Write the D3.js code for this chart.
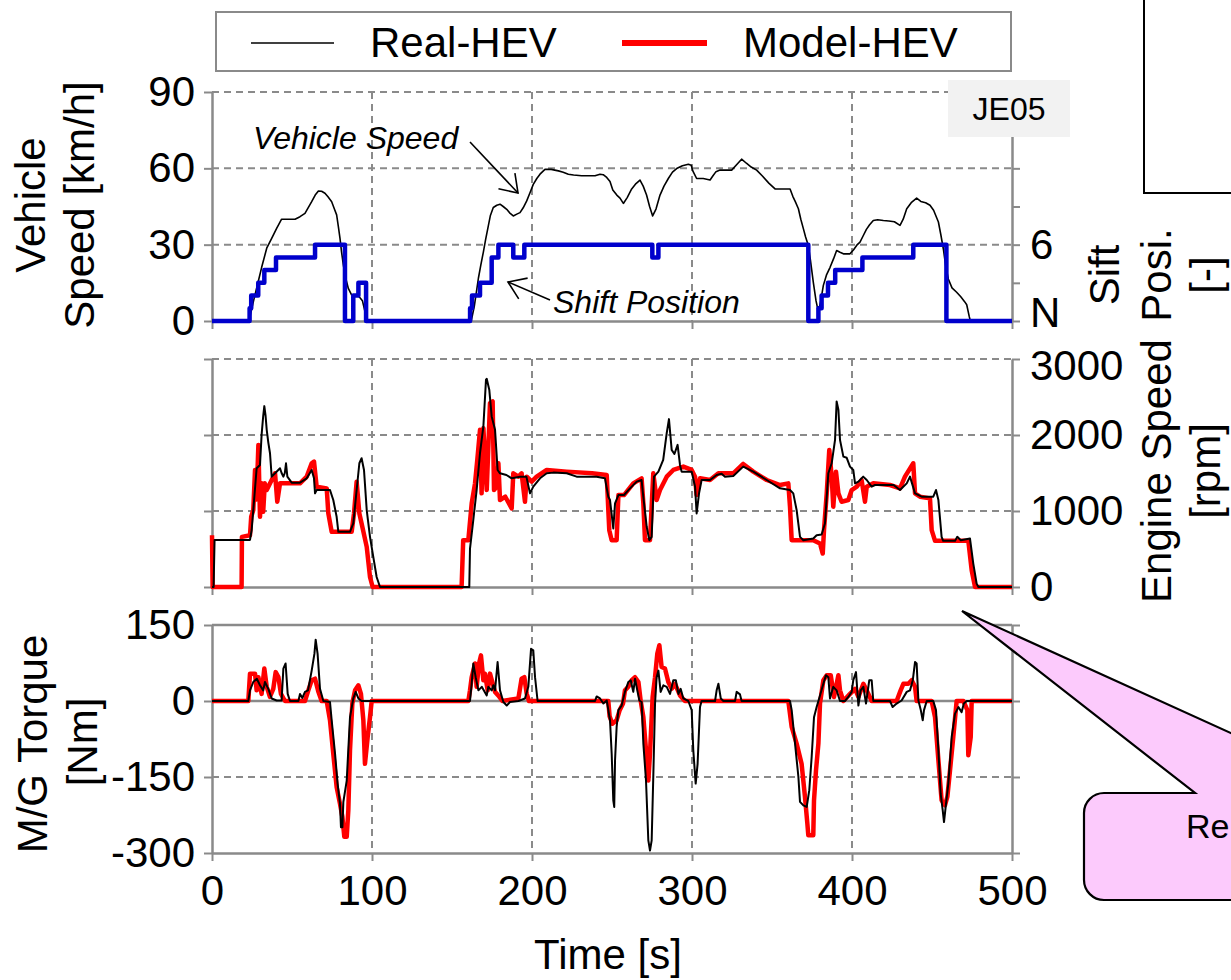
<!DOCTYPE html>
<html>
<head>
<meta charset="utf-8">
<script src="https://cdn.jsdelivr.net/npm/d3@7"></script>
<style>
  body { margin: 0; background: #fff; }
  svg { display: block; }
  text { font-family: "Liberation Sans", Arial, sans-serif; fill: #000; }
</style>
</head>
<body>
<svg id="chart" width="1231" height="980"></svg>
<script>
// ---- axis ticks ----
const timeTicks = [0, 100, 200, 300, 400, 500];
const speedTicks = [0, 30, 60, 90];
const shiftTicks = [0, 3, 6, 9, 12, 15, 18];
const shiftLabels = { 0: "N", 6: "6" };
const engineTicks = [0, 1000, 2000, 3000];
const torqueTicks = [-300, -150, 0, 150];

// ---- vehicle speed, Real-HEV [time s, km/h] ----
const vehicleSpeed = [[0,0],[23.5,0],[24,2.4],[26,8],[28.9,15.5],[31,21],[34.2,28.6],[37.3,32.5],[40.4,36.4],[43.5,40],[51.9,40],[55,41],[58.1,42.3],[62.3,46.9],[64.5,49.5],[66.5,51.1],[68.5,51],[70.6,50.2],[72.5,48.8],[74.8,46.9],[76.5,44],[77.9,41.7],[79,37],[80,32.5],[81,27],[82.1,22],[83.5,17],[85.2,12.8],[87.3,10.2],[90,10],[92,9.5],[94,8],[95.5,4],[97,0],[162,0],[164,6],[166.5,16.8],[168,22],[169.6,27.1],[171,32],[172.7,37.4],[174,41.5],[175.8,44.6],[178,45.5],[180,45.9],[182,45],[184.2,43.9],[186,42.5],[188.3,41.3],[190.5,42],[192.5,42.6],[194.5,44.5],[196.7,47.2],[198.8,50.5],[200.8,53.7],[203,56],[205,57.7],[208.1,59.6],[212,59.6],[216.5,59],[219.5,58.5],[222.7,57.7],[226,57.4],[231,57.1],[239.4,57.1],[242.5,57.7],[244.5,57.5],[246.7,56.4],[248.75,54.8],[250.5,51.5],[253,49.5],[255,48.3],[257.1,46.2],[259.5,48.5],[262.3,51.9],[265,54],[267.5,55.4],[269.5,53],[271.6,49.5],[273.5,45],[275.4,41.3],[277.5,44],[280,49.5],[282.5,53],[285.2,56],[287.8,58.5],[290.4,59.9],[294,61],[297.7,61.6],[299.5,61.2],[300.5,59],[302.9,56],[307,56],[311.3,55.4],[313,57],[315,58.7],[317.5,59.3],[324.8,59.3],[328,61.5],[331,63.6],[334,62],[337,60.5],[340.4,59.3],[344,57],[348,54.2],[351.9,51.9],[361.3,51.9],[363,49],[364.5,47],[366.5,44.1],[368,40],[369.6,36.3],[371,33],[372.7,29.7],[374,24],[375.8,15.3],[377.5,8],[379,3.5],[380.5,8],[382.1,14],[384,18],[386.3,21.1],[388.5,24.5],[390.4,27.7],[392.5,27],[394.6,26.4],[398.75,26.4],[401,28],[403,29.8],[405,31],[407,33.5],[409,36],[411,37.8],[413.3,39.5],[416,39.8],[419.6,39.5],[423,39.3],[426.5,39],[430,37.6],[432,40],[434.2,44.1],[437,46.5],[440.4,48.3],[443,47],[446,46.5],[448.75,45.5],[451,43.5],[454,38.9],[455.5,34],[457.1,28.3],[458.5,22],[460.2,16.5],[462.5,13],[465.4,11.3],[468,9.5],[470.5,7.5],[471.7,6.4],[473.3,1.7],[474,0],[500,0]];

// ---- shift position (N = 0) [time s, position] ----
const shiftPosition = [[0,0],[23.5,1],[24.5,2],[28.9,3],[32.7,4],[40,5],[64.4,6],[83.1,0],[88.3,2],[91.5,3],[96.3,0],[161.3,1],[162.5,2],[167.5,3],[174.8,5],[179,6],[188.3,5],[195.2,6],[275.2,5],[279,6],[372.7,0],[379,1],[381,2],[385,3],[389.5,4],[406.5,5],[438.3,6],[459,0],[500,0]];

// ---- engine speed [time s, rpm] ----
const engineReal = [[0,0],[1,0],[1.6,620],[23.75,620],[24.8,750],[25.8,1012],[27.9,1562],[30,1606],[31,2002],[32,2250],[32.7,2380],[33.5,2250],[34.2,2068],[35.2,1900],[36.25,1760],[37.3,1452],[39.4,1496],[40.5,1520],[42.5,1562],[43.5,1500],[44.6,1452],[45.5,1500],[46.25,1628],[47.1,1452],[49.8,1373],[55,1373],[59.2,1430],[62.3,1540],[63.75,1430],[64.4,1232],[65.4,1276],[73.75,1276],[75.8,1144],[77.9,924],[78.96,726],[86.25,726],[88.3,836],[90.4,1276],[92.1,1628],[93.5,1694],[95,1540],[96.7,1012],[98.75,660],[100.8,396],[102.9,132],[105,0],[160.8,0],[161.25,506],[163.3,880],[165.4,1276],[167.5,1760],[169.6,2112],[171.25,2728],[171.7,2740],[173.3,2596],[174.8,2244],[176.9,2068],[178.5,1540],[180,1496],[184,1474],[187.3,1430],[192.5,1452],[196.5,1452],[198.75,1232],[200.8,1320],[205,1430],[209.2,1496],[213.3,1505],[221.7,1496],[227.9,1452],[240.4,1452],[245.6,1430],[247.7,1188],[248.75,1144],[250.8,770],[251.9,1100],[254,1210],[257.5,1210],[261.25,1298],[265.4,1386],[268.5,1408],[269.5,1200],[271.7,792],[273.3,616],[274.8,660],[276.25,1452],[279,1518],[282,1672],[284.2,2024],[285.6,2209],[287.3,1804],[289,1750],[291,1870],[292.5,1606],[293.5,1518],[299.8,1518],[301.9,1320],[302.9,968],[304.4,1232],[306,1408],[311.25,1408],[315.4,1474],[318.5,1490],[320.6,1452],[325.8,1460],[332,1584],[338.3,1518],[346.7,1408],[355,1298],[361.25,1276],[363.3,1232],[365.4,1012],[367.5,660],[369.6,616],[375.8,638],[377.9,682],[381,690],[383.1,836],[385.2,1496],[387.3,1628],[389.4,1936],[390.4,2442],[391.5,2332],[392.5,1936],[394.6,1716],[396.7,1700],[398.75,1584],[400.8,1540],[401.9,1364],[404,1386],[407,1452],[409.2,1408],[412.3,1320],[414.4,1342],[426,1342],[430,1276],[434.2,1364],[436.25,1452],[439.4,1232],[443.5,1188],[450.8,1188],[452.5,1276],[454,1144],[456,660],[457,607],[464.4,607],[465.8,660],[468,616],[473.75,638],[475.8,308],[477.9,44],[479,0],[500,0]];

const engineModel = [[0,680],[0.4,0],[18.5,0],[18.7,660],[23.75,680],[24.5,924],[25.8,1012],[26.9,1540],[27.8,1150],[29,1870],[30,924],[31,1364],[32,990],[33,1364],[34.2,1276],[35.2,1320],[37.3,1408],[39.4,1496],[40.8,1122],[42.5,1364],[55,1364],[59.2,1452],[62.3,1628],[63.75,1650],[65.4,1320],[71.7,1298],[72.7,968],[74.8,726],[87.3,726],[88.75,968],[90.4,1386],[92.1,968],[93.5,836],[96.7,528],[98.75,132],[100.4,0],[156,0],[157,616],[160.2,616],[162.3,1100],[164.4,1364],[165.8,1672],[167.5,2068],[168.5,1232],[169.6,2090],[171.7,1276],[173.75,2420],[175.4,2442],[176.25,1276],[178,1320],[179,1628],[180,1144],[183.3,1188],[187.3,1034],[188.3,1496],[191.5,1452],[193.5,1496],[195.6,1122],[196.7,1452],[199.8,1386],[202.9,1452],[209.2,1540],[221.7,1518],[237.5,1496],[246.7,1474],[247.7,1012],[248.3,748],[249.8,616],[252.9,616],[254,1210],[257.5,1210],[263.3,1364],[268.5,1430],[269.6,1100],[270.6,616],[273.75,616],[275.8,1496],[277.9,1144],[280,1276],[284.2,1452],[288.3,1540],[294.6,1584],[299.8,1540],[301.9,1452],[302.9,1210],[305,1430],[311.25,1408],[316.5,1496],[325.8,1496],[332,1619],[338.3,1518],[346.7,1408],[355,1342],[360.2,1364],[361.25,1056],[362.3,616],[375.8,616],[380,572],[381.7,440],[382.5,748],[384.2,1232],[385.8,1804],[387.3,1452],[388.3,1056],[390,1518],[391.5,1232],[393.5,1122],[397.7,1144],[399.8,1276],[403,1320],[406,1408],[408.1,1122],[409.2,1320],[413.3,1364],[423.75,1342],[430,1298],[433.1,1452],[438.3,1628],[439.4,1232],[442.5,1188],[448.75,1166],[449.8,748],[451.9,607],[472.7,607],[474.8,220],[476.9,0],[500,0]];

// ---- M/G torque [time s, Nm] ----
const torqueReal = [[0,0],[22.7,0],[23.75,21],[25.8,37.5],[28,44],[30,31],[32,21],[33.1,37.5],[35.2,24],[37.3,5],[40.4,1],[43.5,1],[44.6,64],[46,74],[47.3,14],[48.75,0],[54,0],[55,14],[56.5,6],[58.1,18],[60,21],[62.3,60],[64,93],[64.8,121],[66,93],[67.5,24],[69.6,0],[73.75,-2],[74.8,-38],[76.9,-104],[78.5,-163],[80,-203],[80.6,-249],[81.5,-249],[82.1,-199],[84.2,-157],[86.25,-32],[88.3,5],[89.8,18],[91.5,5],[93.5,0],[161.25,0],[162.3,34],[163.3,74],[164.8,47],[166.5,21],[168.6,28],[171.7,11],[172.7,28],[174.8,21],[175.8,31],[176.9,21],[178.5,77],[180,21],[182.1,-2],[184.2,-9],[186.2,-2],[191.5,0],[195.6,5],[197.7,28],[199.4,103],[200.8,100],[201.9,47],[203.5,0],[239.4,0],[240.4,9],[242.5,5],[244.6,-5],[246.7,1],[248.75,-38],[249.8,-104],[250.8,-196],[251.4,-209],[251.9,-117],[252.9,-51],[254,-18],[256,-9],[258.1,18],[260.2,37.5],[261.7,41],[263.3,18],[264.4,44],[265.8,21],[267.1,1],[268.5,-2],[269.6,-84],[271.25,-157],[272.7,-275],[273.75,-295],[274.8,-275],[275.8,-150],[276.9,-5],[277.9,47],[279,60],[280.4,18],[282.1,31],[284.2,28],[286.25,14],[288.3,41],[289.9,41],[291.5,14],[292.9,24],[294.6,5],[297.7,0],[299.8,-18],[300.8,-97],[302.3,-163],[303.5,-124],[305,-12],[306,0],[314.4,0],[315.4,21],[316.5,34],[318,5],[319.6,0],[326.9,0],[327.9,18],[330,13],[331,0],[361.25,0],[362.3,-18],[364.4,-84],[366.5,-150],[367.5,-199],[369.6,-206],[371.7,-209],[373.3,-176],[374.8,-110],[376.25,-32],[377.9,-12],[380,11],[382.1,34],[383.75,51],[385.2,47],[386.25,5],[388.3,28],[390.4,21],[392.5,0],[395.6,0],[397.7,8],[399.8,18],[400.8,41],[402.5,57],[404,-9],[405.4,21],[407.1,28],[408.75,-5],[410.8,41],[412.3,41],[413.3,0],[423.75,0],[425.4,-12],[427.9,-5],[431,1],[434.2,18],[436.25,21],[438,41],[439.4,77],[440.4,74],[441.5,1],[443,-18],[444.2,-38],[445,-18],[446.7,0],[450.8,0],[452.5,-18],[454,-97],[455.4,-183],[456.7,-216],[457.5,-239],[458.75,-203],[460.2,-163],[462.3,-71],[464.4,-25],[466.5,-12],[468.5,-22],[469.9,-5],[471.7,0],[500,0]];

const torqueModel = [[0,0],[22.7,0],[23.75,54],[26.9,54],[27.9,21],[29,47],[31,14],[32.7,64],[34.2,28],[36.2,8],[38.3,24],[39.8,57],[41.5,47],[43.1,14],[45.6,0],[58.1,0],[60.2,21],[62.3,41],[64.4,44],[66.5,18],[68.5,0],[71.7,0],[73.75,-38],[75.8,-104],[77.9,-170],[80,-203],[81.5,-229],[82.7,-268],[84.2,-268],[85.2,-216],[86.25,-97],[87.7,-5],[89.4,21],[91.5,31],[93.1,14],[94.6,-38],[95.6,-124],[97.3,-71],[98.75,-32],[99.8,0],[160.2,0],[161.25,21],[162.3,47],[164.4,74],[165.4,28],[166.9,74],[168.1,90],[169.6,41],[170.6,54],[172.3,21],[173.75,54],[175.2,37.5],[176.9,18],[178.9,11],[181.5,0],[191.5,5],[193.5,44],[195.2,47],[196.7,14],[198.1,0],[247.7,0],[248.5,-30],[250.2,-45],[252.9,-38],[254.8,-18],[256.9,-5],[258.1,21],[260.2,28],[262.3,41],[264.4,47],[266.5,37.5],[267.9,1],[269.6,-32],[271.25,-97],[272.7,-157],[273.75,-104],[275.4,8],[276.9,47],[278.3,93],[279.6,110],[281,67],[283.1,64],[285.2,37.5],[287.3,24],[289.4,34],[292.5,11],[295.6,0],[360.2,0],[362.3,-51],[365.4,-84],[368.5,-124],[370.6,-189],[372.1,-242],[372.7,-265],[375.8,-265],[376.25,-196],[377.5,-137],[379,-84],[380,-5],[382.1,41],[384.2,51],[386.7,51],[388.75,8],[391.5,51],[392.5,21],[394.6,0],[398.75,14],[401.9,24],[404,8],[407.1,34],[409.2,21],[412.3,0],[427.9,0],[430.4,21],[432.1,34],[435.2,34],[437.3,41],[439.4,28],[440.4,0],[449.8,0],[451.9,-32],[454,-117],[456,-196],[458.1,-206],[459.6,-189],[461.25,-137],[463.3,-71],[465.4,0],[469.6,0],[472.1,-18],[472.7,-107],[474.2,-71],[474.8,0],[500,0]];

// ---- drawing ----
const svg = d3.select("#chart");
svg.append("rect").attr("width", 1231).attr("height", 980).attr("fill", "#fff");

const AXIS = "#8a8a8a";
const FS = 42;
const plain = d => String(d);   // hyphen-minus for negatives

const x = d3.scaleLinear().domain([0, 500]).range([212, 1012]);
const ySpeed = d3.scaleLinear().domain([0, 90]).range([321, 92]);
const yShift = d3.scaleLinear().domain([0, 18]).range([321, 92]);
const yEngine = d3.scaleLinear().domain([0, 3000]).range([587, 359]);
const yTorque = d3.scaleLinear().domain([-300, 150]).range([853, 625]);

function dashedH(g, y, v) {
  g.append("line").attr("x1", x(0)).attr("x2", x(500)).attr("y1", y(v)).attr("y2", y(v))
    .attr("stroke", AXIS).attr("stroke-width", 2).attr("stroke-dasharray", "7,5");
}
function solidH(g, y, v) {
  g.append("line").attr("x1", x(0)).attr("x2", x(500)).attr("y1", y(v)).attr("y2", y(v))
    .attr("stroke", AXIS).attr("stroke-width", 2.5);
}
function vGrid(g, y) {
  const [y0, y1] = y.range();
  [100, 200, 300, 400].forEach(t => {
    g.append("line").attr("x1", x(t)).attr("x2", x(t)).attr("y1", y1).attr("y2", y0)
      .attr("stroke", AXIS).attr("stroke-width", 2).attr("stroke-dasharray", "7,5");
  });
}
function styleAxis(sel) {
  sel.select(".domain").attr("stroke", AXIS).attr("stroke-width", 2.5);
  sel.selectAll(".tick line").attr("stroke", AXIS).attr("stroke-width", 2);
  sel.selectAll(".tick text").attr("font-size", FS).attr("font-family", "Liberation Sans, Arial, sans-serif").attr("fill", "#000");
}
function bottomAxis(g, y, labels) {
  const a = d3.axisBottom(x).tickValues(timeTicks).tickSize(8).tickSizeOuter(0).tickPadding(14)
    .tickFormat(labels ? plain : () => "");
  const s = g.append("g").attr("transform", `translate(0,${y.range()[0]})`).call(a);
  styleAxis(s);
}
function leftAxis(g, y, ticks, labels) {
  const a = d3.axisLeft(y).tickValues(ticks).tickSize(8).tickSizeOuter(0).tickPadding(9)
    .tickFormat(labels ? plain : () => "");
  const s = g.append("g").attr("transform", `translate(${x(0)},0)`).call(a);
  styleAxis(s);
}
function rightAxis(g, y, ticks, fmt) {
  const a = d3.axisRight(y).tickValues(ticks).tickSize(8).tickSizeOuter(0).tickPadding(10).tickFormat(fmt);
  const s = g.append("g").attr("transform", `translate(${x(500)},0)`).call(a);
  styleAxis(s);
  return s;
}
function nudgeTick(axisSel, value, dy) {
  axisSel.selectAll(".tick").filter(d => d === value).select("text")
    .attr("transform", `translate(0,${dy})`);
}
function drawLine(g, data, y, color, width, curve) {
  g.append("path").datum(data)
    .attr("d", d3.line().x(d => x(d[0])).y(d => y(d[1])).curve(curve || d3.curveLinear))
    .attr("fill", "none").attr("stroke", color).attr("stroke-width", width)
    .attr("stroke-linejoin", "round");
}

// Legend
const leg = svg.append("g");
leg.append("rect").attr("x", 216).attr("y", 12).attr("width", 795).attr("height", 59)
  .attr("fill", "#fff").attr("stroke", AXIS).attr("stroke-width", 2);
leg.append("line").attr("x1", 251).attr("x2", 334).attr("y1", 43).attr("y2", 43).attr("stroke", "#000").attr("stroke-width", 1.6);
leg.append("text").attr("x", 370).attr("y", 57).attr("font-size", FS).text("Real-HEV");
leg.append("line").attr("x1", 622).attr("x2", 707).attr("y1", 43).attr("y2", 43).attr("stroke", "#ff0000").attr("stroke-width", 6);
leg.append("text").attr("x", 743).attr("y", 57).attr("font-size", FS).text("Model-HEV");

// Panel 1: vehicle speed and shift position
const p1 = svg.append("g");
[30, 60, 90].forEach(v => dashedH(p1, ySpeed, v));
vGrid(p1, ySpeed);
leftAxis(p1, ySpeed, speedTicks, true);
const shiftAxis = rightAxis(p1, yShift, shiftTicks, d => shiftLabels[d] || "");
nudgeTick(shiftAxis, 0, -8);
bottomAxis(p1, ySpeed, false);
drawLine(p1, vehicleSpeed, ySpeed, "#000", 1.6);
drawLine(p1, shiftPosition, yShift, "#0000cc", 4.5, d3.curveStepAfter);

// Panel 2: engine speed
const p2 = svg.append("g");
[1000, 2000, 3000].forEach(v => dashedH(p2, yEngine, v));
vGrid(p2, yEngine);
leftAxis(p2, yEngine, engineTicks, false);
const engineAxis = rightAxis(p2, yEngine, engineTicks, plain);
nudgeTick(engineAxis, 3000, 7);
bottomAxis(p2, yEngine, false);
drawLine(p2, engineModel, yEngine, "#ff0000", 4.5);
drawLine(p2, engineReal, yEngine, "#000", 2);

// Panel 3: M/G torque
const p3 = svg.append("g");
dashedH(p3, yTorque, -150);
vGrid(p3, yTorque);
solidH(p3, yTorque, 150);
solidH(p3, yTorque, 0);
leftAxis(p3, yTorque, torqueTicks, true);
rightAxis(p3, yTorque, torqueTicks, () => "");
bottomAxis(p3, yTorque, true);
drawLine(p3, torqueModel, yTorque, "#ff0000", 4.5);
drawLine(p3, torqueReal, yTorque, "#000", 2);

// Cycle tag
svg.append("rect").attr("x", 948).attr("y", 80).attr("width", 122).attr("height", 57).attr("fill", "#f2f2f2");
svg.append("text").attr("x", 1009).attr("y", 120).attr("text-anchor", "middle").attr("font-size", 32).text("JE05");

// Axis titles
function vLabel(txt, cx, cy, size) {
  svg.append("text").attr("transform", `translate(${cx},${cy}) rotate(-90)`)
    .attr("text-anchor", "middle").attr("font-size", size || FS).text(txt);
}
vLabel("Vehicle", 45, 205);
vLabel("Speed [km/h]", 94, 205);
vLabel("M/G Torque", 47, 744);
vLabel("[Nm]", 97, 742);
vLabel("Sift", 1119, 275);
vLabel("Posi.", 1171, 275);
vLabel("[-]", 1220, 275);
vLabel("Engine Speed", 1171, 471);
vLabel("[rpm]", 1220, 471);
svg.append("text").attr("x", 608).attr("y", 969).attr("text-anchor", "middle").attr("font-size", FS).text("Time [s]");

// Annotations with open arrowheads
function arrow(x1, y1, x2, y2) {
  svg.append("line").attr("x1", x1).attr("y1", y1).attr("x2", x2).attr("y2", y2)
    .attr("stroke", "#000").attr("stroke-width", 1.6);
  const ang = Math.atan2(y1 - y2, x1 - x2), len = 20, spread = 0.6;
  const pts = [
    [x2 + len * Math.cos(ang + spread), y2 + len * Math.sin(ang + spread)],
    [x2, y2],
    [x2 + len * Math.cos(ang - spread), y2 + len * Math.sin(ang - spread)]
  ];
  svg.append("polyline").attr("points", pts.map(p => p.join(",")).join(" "))
    .attr("fill", "none").attr("stroke", "#000").attr("stroke-width", 1.6);
}
svg.append("text").attr("x", 253).attr("y", 149).attr("font-size", 32).attr("font-style", "italic").text("Vehicle Speed");
arrow(470, 142, 518, 193);
svg.append("text").attr("x", 553).attr("y", 313).attr("font-size", 32).attr("font-style", "italic").text("Shift Position");
arrow(550, 300, 508, 282);

// Framed box at the top right
svg.append("rect").attr("x", 1144).attr("y", -10).attr("width", 120).attr("height", 203)
  .attr("fill", "#fff").attr("stroke", "#000").attr("stroke-width", 2);

// Callout balloon
svg.append("path")
  .attr("d", "M962,611 L1195,793 L1104,793 A20,20 0 0 0 1084,813 L1084,880 A20,20 0 0 0 1104,900 L1300,900 L1300,793 L1363,793 Z")
  .attr("fill", "#fccafc").attr("stroke", "#000").attr("stroke-width", 2.2).attr("stroke-linejoin", "miter");
svg.append("text").attr("x", 1186).attr("y", 838).attr("font-size", 34).text("Re");
</script>
</body>
</html>
